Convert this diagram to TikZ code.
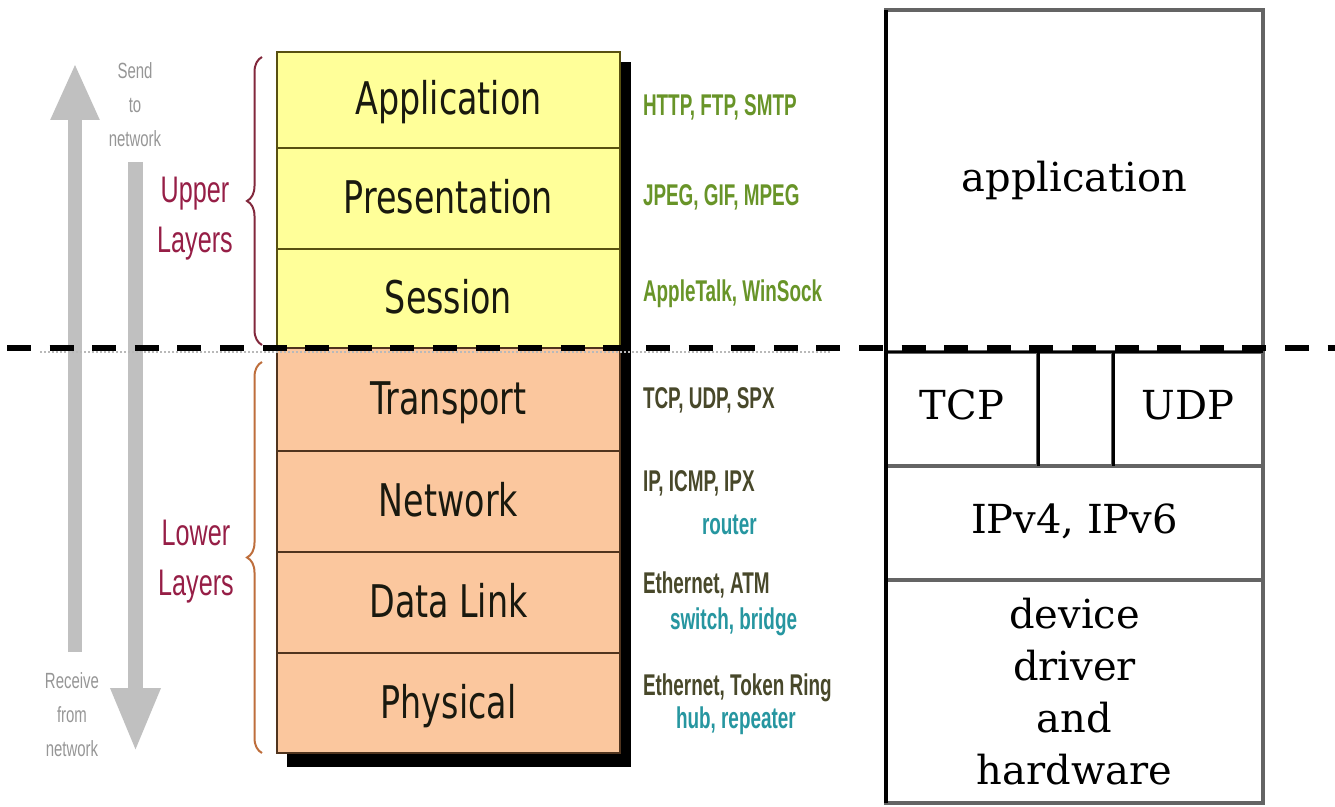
\documentclass[tikz,border=0pt]{standalone}
\usepackage{fontspec}
\usetikzlibrary{arrows.meta,decorations.pathreplacing}
\newfontfamily\osifont[FakeStretch=0.74]{DejaVu Sans}
\newfontfamily\notefont[FakeStretch=0.63]{Liberation Sans}
\newfontfamily\sidefont[FakeStretch=0.68]{Liberation Sans}
\newfontfamily\stackfont{DejaVu Serif}
\definecolor{osiyellow}{RGB}{255,255,153}
\definecolor{osiorange}{RGB}{251,199,158}
\definecolor{osiyline}{RGB}{88,80,16}
\definecolor{osioline}{RGB}{80,52,30}
\definecolor{ositext}{RGB}{25,25,15}
\definecolor{notegreen}{RGB}{104,148,40}
\definecolor{noteolive}{RGB}{72,72,42}
\definecolor{noteteal}{RGB}{38,150,160}
\definecolor{layerred}{RGB}{150,30,70}
\definecolor{bracered}{RGB}{130,40,60}
\definecolor{braceorange}{RGB}{190,110,60}
\definecolor{flowgray}{RGB}{192,192,192}
\definecolor{flowtext}{RGB}{150,150,150}
\definecolor{stackgray}{RGB}{100,100,100}

\begin{document}
\begin{tikzpicture}[x=1pt,y=1pt,line join=miter,
  every node/.style={inner sep=0pt,outer sep=0pt},
  osilayer/.style={draw,line width=2pt,minimum width=343pt,anchor=north west,
    text=ositext,text height=34pt,text depth=4pt,
    font=\osifont\fontsize{45pt}{45pt}\selectfont},
  upperlayer/.style={osilayer,fill=osiyellow,draw=osiyline},
  lowerlayer/.style={osilayer,fill=osiorange,draw=osioline},
  protonote/.style={anchor=base west,font=\notefont\bfseries\fontsize{30pt}{30pt}\selectfont},
  noteup/.style={protonote,text=notegreen},
  notelow/.style={protonote,text=noteolive},
  notedev/.style={protonote,text=noteteal},
  flowarrow/.style={flowgray},
  flowlabel/.style={align=center,text=flowtext,font=\sidefont\fontsize{22pt}{34pt}\selectfont},
  grouplabel/.style={align=center,text=layerred,font=\sidefont\fontsize{37pt}{50pt}\selectfont},
  groupbrace/.style={decorate,decoration={brace,amplitude=15pt},line width=2pt},
  stackbox/.style={draw=stackgray,line width=4pt,anchor=north west,
    font=\stackfont\fontsize{40pt}{52pt}\selectfont},
  stackcell/.style={stackbox,text height=28pt,text depth=6pt},
  cutline/.style={line width=6pt,dash pattern=on 24pt off 18.6pt}]
  \path[use as bounding box] (0,0) rectangle (1335,806);  % 源图 1335x806px, 1px = 1pt, y = 806 - py
  % ---- 灰色收发箭头：杆宽 14/15px ----
  \coordinate (up0) at (75,154);    % px(75,652)
  \coordinate (up1) at (75,743);    % px(75,63) 箭尖
  \coordinate (dn0) at (135.5,644); % px(135,162)
  \coordinate (dn1) at (135.5,54);  % px(135,752) 箭尖
  \draw[flowarrow,line width=14pt,-{Triangle[width=45pt,length=57pt]}] (up0) -- (up1);
  \draw[flowarrow,line width=15pt,-{Triangle[width=46pt,length=64pt]}] (dn0) -- (dn1);
  \node[flowlabel] (sendlbl) at (135,701.5) {Send\\to\\network};
  \node[flowlabel] (recvlbl) at (72,91.5) {Receive\\from\\network};
  % ---- OSI 七层：阴影先画，层框 px 上沿 52/148/249/348/451/552/653，下沿 753 ----
  \fill[black] (287,39) rectangle (631,744);
  \node[upperlayer,minimum height=96pt]  (app)   at (277,754) {Application};
  \node[upperlayer,minimum height=101pt] (pres)  at (277,658) {Presentation};
  \node[upperlayer,minimum height=99pt]  (sess)  at (277,557) {Session};
  \node[lowerlayer,minimum height=103pt] (trans) at (277,458) {Transport};
  \node[lowerlayer,minimum height=101pt] (net)   at (277,355) {Network};
  \node[lowerlayer,minimum height=101pt] (dlink) at (277,254) {Data Link};
  \node[lowerlayer,minimum height=100pt] (phys)  at (277,153) {Physical};
  % ---- 协议注记：anchor=base west，x = 643px ----
  \node[noteup]  (httpn)  at (643,690) {HTTP, FTP, SMTP};
  \node[noteup]  (jpegn)  at (643,600) {JPEG, GIF, MPEG};
  \node[noteup]  (talkn)  at (643,504) {AppleTalk, WinSock};
  \node[notelow] (tcpn)   at (643,397) {TCP, UDP, SPX};
  \node[notelow] (ipn)    at (643,314) {IP, ICMP, IPX};
  \node[notedev] (routn)  at (702,271) {router};
  \node[notelow] (ethn)   at (643,212) {Ethernet, ATM};
  \node[notedev] (swn)    at (670,176) {switch, bridge};
  \node[notelow] (ringn)  at (643,111) {Ethernet, Token Ring};
  \node[notedev] (hubn)   at (676,78)  {hub, repeater};
  % ---- 上下层括号（x = 262px，齿尖 ~247px）----
  \coordinate (ubrB) at (262,461); \coordinate (ubrT) at (262,749);
  \coordinate (lbrB) at (262,53);  \coordinate (lbrT) at (262,444);
  \draw[groupbrace,bracered] (ubrB) -- (ubrT);
  \draw[groupbrace,braceorange] (lbrB) -- (lbrT);
  \node[grouplabel] (upperlbl) at (195,587.4) {Upper\\Layers};
  \node[grouplabel] (lowerlbl) at (196,244.4) {Lower\\Layers};
  % ---- 右侧 TCP/IP 栈：px x 886..1263，y 10/352/466/580/803 ----
  \node[stackcell,minimum width=377pt,minimum height=342pt] (appbox) at (886,796) {application};
  \node[stackcell,minimum width=152pt,minimum height=114pt] (tcpbox) at (886,454) {TCP};
  \node[stackcell,minimum width=75pt, minimum height=114pt] (gapbox) at (1038,454) {};
  \node[stackcell,minimum width=150pt,minimum height=114pt] (udpbox) at (1113,454) {UDP};
  \node[stackcell,minimum width=377pt,minimum height=114pt] (ipbox)  at (886,340) {IPv4, IPv6};
  \node[stackbox,align=center,minimum width=377pt,minimum height=223pt] (devbox) at (886,226)
    {device\\driver\\and\\hardware};
  \draw[line width=4pt] (appbox.north west) -- (devbox.south west);
  \draw[line width=2.5pt] (appbox.south west) -- (appbox.south east);
  \draw[line width=3pt] (gapbox.north west) -- (gapbox.south west);
  \draw[line width=3pt] (gapbox.north east) -- (gapbox.south east);
  % ---- 分界虚线 px y = 348 ----
  \coordinate (dotL) at (40,454);  \coordinate (dotR) at (830,454);
  \draw[gray!55,line width=2pt,dotted] (dotL) -- (dotR);
  \coordinate (cutL) at (7,458);   \coordinate (cutR) at (1335,458);
  \draw[cutline] (cutL) -- (cutR);
\end{tikzpicture}
\end{document}
